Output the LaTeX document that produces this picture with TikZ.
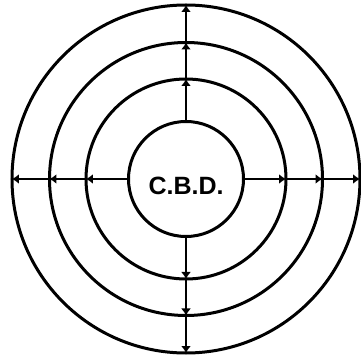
\documentclass[tikz,border=0pt]{standalone}
\usepackage{fontspec}
\setsansfont{Liberation Sans}
\usetikzlibrary{arrows.meta,positioning}

\begin{document}
\begin{tikzpicture}[
  x=1pt, y=1pt,
  ring/.style={draw, circle, line width=3pt, outer sep=0pt, inner sep=0pt},
  arr/.style={-{Latex[length=7pt,width=10pt]}, line width=2.4pt}
]
\useasboundingbox (-186,-179) rectangle (175,179);
\node[ring, minimum size=115pt] (cbd) at (0,0) {};
\node[ring, minimum size=200pt] (zone1) at (0,0) {};
\node[ring, minimum size=273pt] (zone2) at (0,0) {};
\node[ring, minimum size=348pt] (zone3) at (0,0) {};
\node[font=\sffamily\bfseries\fontsize{25}{28}\selectfont, inner sep=0pt] (cbdlabel) at (0,-7) {C.B.D.};
\foreach \side in {north,south,east,west} {
  \draw[arr] (cbd.\side) -- (zone1.\side);
  \draw[arr] (zone1.\side) -- (zone2.\side);
  \draw[arr] (zone2.\side) -- (zone3.\side);
}
\end{tikzpicture}
\end{document}
